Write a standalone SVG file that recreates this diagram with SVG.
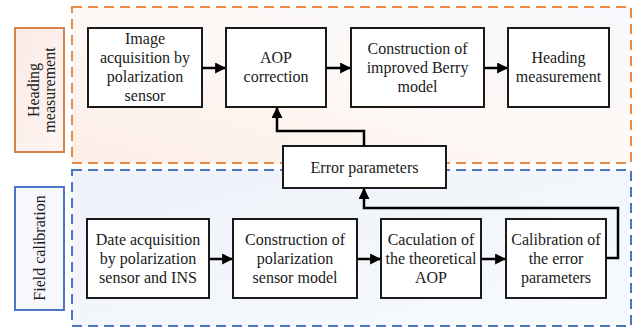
<svg xmlns="http://www.w3.org/2000/svg" width="644" height="330" viewBox="0 0 644 330">
<defs>
<style>
.box{fill:#ffffff;stroke:#1a1a1a;stroke-width:2}
.t{font-family:"Liberation Serif","Times New Roman",serif;font-size:16px;fill:#1a1a1a;text-anchor:middle}
.con{fill:none;stroke:#000;stroke-width:2.5}
</style>
<linearGradient id="gO" x1="0" y1="1" x2="1" y2="0">
<stop offset="0" stop-color="#fdeee6"/>
<stop offset="0.5" stop-color="#fdf8f5"/>
<stop offset="1" stop-color="#f6f8fb"/>
</linearGradient>
<linearGradient id="gB" x1="0" y1="0" x2="1" y2="1">
<stop offset="0" stop-color="#eef2f9"/>
<stop offset="1" stop-color="#f7fafd"/>
</linearGradient>
<linearGradient id="gL" x1="0" y1="0" x2="1" y2="1">
<stop offset="0" stop-color="#fbeae6"/>
<stop offset="1" stop-color="#fdf5f2"/>
</linearGradient>
<marker id="ah" viewBox="0 0 10 10" refX="9" refY="5" markerWidth="4.4" markerHeight="4.4" markerUnits="strokeWidth" orient="auto">
<path d="M0,0 L10,5 L0,10 z" fill="#000"/>
</marker>
</defs>
<rect width="644" height="330" fill="#ffffff"/>

<g id="heading-group">
<rect x="72" y="7" width="559" height="156" fill="url(#gO)" stroke="#e98b45" stroke-width="2" stroke-dasharray="10,6"/>
</g>
<g id="field-group">
<rect x="72" y="170" width="559" height="156" fill="url(#gB)" stroke="#4a76c6" stroke-width="2" stroke-dasharray="10,6"/>
</g>

<g id="label-heading">
<rect x="15" y="28" width="49" height="124" fill="url(#gL)" stroke="#d9814a" stroke-width="2"/>
<text class="t" transform="translate(34,90) rotate(-90)" y="5">Heading</text>
<text class="t" transform="translate(50,90) rotate(-90)" y="5">measurement</text>
</g>
<g id="label-field">
<rect x="15" y="187" width="49" height="123" fill="#f6f8fc" stroke="#4a76c6" stroke-width="2"/>
<text class="t" transform="translate(40,248) rotate(-90)" y="5">Field calibration</text>
</g>

<g id="n1">
<rect class="box" x="88" y="28" width="114" height="79"/>
<text class="t" x="145" y="44">Image</text>
<text class="t" x="145" y="63">acquisition by</text>
<text class="t" x="145" y="82">polarization</text>
<text class="t" x="145" y="101">sensor</text>
</g>
<g id="n2">
<rect class="box" x="226" y="28" width="100" height="79"/>
<text class="t" x="276" y="63">AOP</text>
<text class="t" x="276" y="82">correction</text>
</g>
<g id="n3">
<rect class="box" x="351" y="28" width="133" height="79"/>
<text class="t" x="417.5" y="54">Construction of</text>
<text class="t" x="417.5" y="73">improved Berry</text>
<text class="t" x="417.5" y="92">model</text>
</g>
<g id="n4">
<rect class="box" x="508" y="28" width="101" height="79"/>
<text class="t" x="558.5" y="63">Heading</text>
<text class="t" x="558.5" y="82">measurement</text>
</g>

<g id="n5">
<rect class="box" x="283" y="146" width="163" height="42"/>
<text class="t" x="364.5" y="173">Error parameters</text>
</g>

<g id="n6">
<rect class="box" x="87" y="219" width="122" height="79"/>
<text class="t" x="148" y="245">Date acquisition</text>
<text class="t" x="148" y="264">by polarization</text>
<text class="t" x="148" y="283">sensor and INS</text>
</g>
<g id="n7">
<rect class="box" x="233" y="219" width="124" height="79"/>
<text class="t" x="295" y="245">Construction of</text>
<text class="t" x="295" y="264">polarization</text>
<text class="t" x="295" y="283">sensor model</text>
</g>
<g id="n8">
<rect class="box" x="381" y="219" width="100" height="79"/>
<text class="t" x="431" y="245">Caculation of</text>
<text class="t" x="431" y="264">the theoretical</text>
<text class="t" x="431" y="283">AOP</text>
</g>
<g id="n9">
<rect class="box" x="506" y="219" width="100" height="79"/>
<text class="t" x="556" y="245">Calibration of</text>
<text class="t" x="556" y="264">the error</text>
<text class="t" x="556" y="283">parameters</text>
</g>

<g id="connectors">
<line class="con" x1="202" y1="68" x2="225" y2="68" marker-end="url(#ah)"/>
<line class="con" x1="326" y1="68" x2="350" y2="68" marker-end="url(#ah)"/>
<line class="con" x1="484" y1="68" x2="507" y2="68" marker-end="url(#ah)"/>
<polyline class="con" points="364,146 364,131 277,131 277,108" marker-end="url(#ah)"/>
<line class="con" x1="209" y1="259" x2="232" y2="259" marker-end="url(#ah)"/>
<line class="con" x1="357" y1="259" x2="380" y2="259" marker-end="url(#ah)"/>
<line class="con" x1="481" y1="259" x2="505" y2="259" marker-end="url(#ah)"/>
<polyline class="con" points="606,258 618,258 618,208 364,208 364,189" marker-end="url(#ah)"/>
</g>
</svg>
